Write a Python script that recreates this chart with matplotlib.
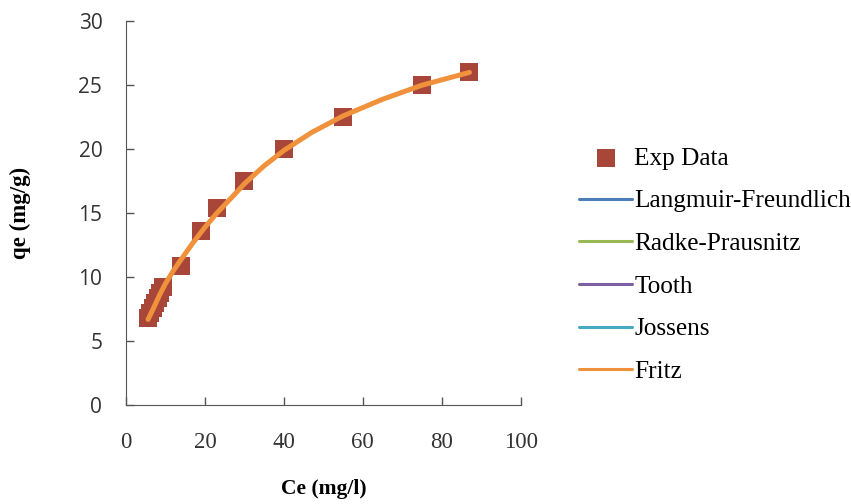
import numpy as np
import matplotlib.pyplot as plt

# Experimental equilibrium data
ce_exp = [5.6, 6.2, 6.8, 7.4, 8.0, 8.7, 9.4, 14.0, 19.0, 23.0, 30.0, 40.0, 55.0, 75.0, 87.0]
qe_exp = [6.8, 7.2, 7.6, 8.0, 8.4, 8.8, 9.2, 10.9, 13.6, 15.4, 17.5, 20.0, 22.5, 25.0, 26.0]

# Fitted isotherm curves (all models overlap closely)
ce_fit = [5.6, 7.0, 8.5, 10.0, 12.0, 14.0, 17.0, 20.0, 23.0, 27.0, 30.0, 35.0, 40.0,
          47.0, 55.0, 65.0, 75.0, 87.0]
models = ['Langmuir-Freundlich', 'Radke-Prausnitz', 'Tooth', 'Jossens', 'Fritz']
qe_fit = {
    'Langmuir-Freundlich': [6.7, 7.6, 8.6, 9.5, 10.5, 11.4, 12.7, 13.9, 15.0, 16.3, 17.3, 18.7,
                            19.9, 21.3, 22.6, 23.9, 25.0, 26.0],
    'Radke-Prausnitz': [6.7, 7.6, 8.6, 9.5, 10.5, 11.4, 12.7, 13.9, 15.0, 16.3, 17.3, 18.7,
                        19.9, 21.3, 22.6, 23.9, 25.0, 26.0],
    'Tooth': [6.7, 7.6, 8.6, 9.5, 10.5, 11.4, 12.7, 13.9, 15.0, 16.3, 17.3, 18.7,
              19.9, 21.3, 22.6, 23.9, 25.0, 26.0],
    'Jossens': [6.7, 7.6, 8.6, 9.5, 10.5, 11.4, 12.7, 13.9, 15.0, 16.3, 17.3, 18.7,
                19.9, 21.3, 22.6, 23.9, 25.0, 26.0],
    'Fritz': [6.7, 7.6, 8.6, 9.5, 10.5, 11.4, 12.7, 13.9, 15.0, 16.3, 17.3, 18.7,
              19.9, 21.3, 22.6, 23.9, 25.0, 26.0],
}
colors = ['#4A7EBB', '#98B954', '#7D60A0', '#46AAC5', '#F0913C']

serif = 'Liberation Serif'

fig = plt.figure(figsize=(8.51, 5.04), dpi=100)
ax = fig.add_axes([0.148, 0.196, 0.464, 0.762])

ax.scatter(ce_exp, qe_exp, marker='s', s=150, color='#A8463A', linewidths=0,
           label='Exp Data', zorder=2)
for name, c in zip(models, colors):
    lw = 3.6 if name == 'Fritz' else 2.2
    ax.plot(ce_fit, qe_fit[name], color=c, lw=lw, label=name, zorder=3,
            solid_capstyle='round')

ax.set_xlim(0, 100)
ax.set_ylim(0, 30)
ax.set_xticks(np.arange(0, 101, 20))
ax.set_yticks(np.arange(0, 31, 5))
ax.tick_params(direction='in', length=6, width=1, color='#555555', labelcolor='#333333')
ax.tick_params(axis='x', pad=19, labelsize=16.5, labelfontfamily=serif)
ax.tick_params(axis='y', pad=17, labelsize=15, labelfontfamily='Open Sans')

for side in ['top', 'right']:
    ax.spines[side].set_visible(False)
for side in ['left', 'bottom']:
    ax.spines[side].set_color('#555555')

ax.set_xlabel('Ce (mg/l)', fontfamily=serif, fontsize=15.5, fontweight='bold', labelpad=19)
ax.set_ylabel('qe (mg/g)', fontfamily=serif, fontsize=16.5, fontweight='bold', labelpad=34)

# legend: marker first, then the fit lines in order
handles, labels = ax.get_legend_handles_labels()
order = [labels.index('Exp Data')] + [labels.index(m) for m in models]
leg = ax.legend([handles[i] for i in order], [labels[i] for i in order],
                loc='center left', bbox_to_anchor=(1.122, 0.365), frameon=False,
                prop={'family': serif, 'size': 18.2}, handlelength=2.1,
                handletextpad=0.08, labelspacing=0.79, borderaxespad=0)
for h in leg.legend_handles[1:]:
    h.set_linewidth(2.2)

fig.savefig('out.png', dpi=100)
